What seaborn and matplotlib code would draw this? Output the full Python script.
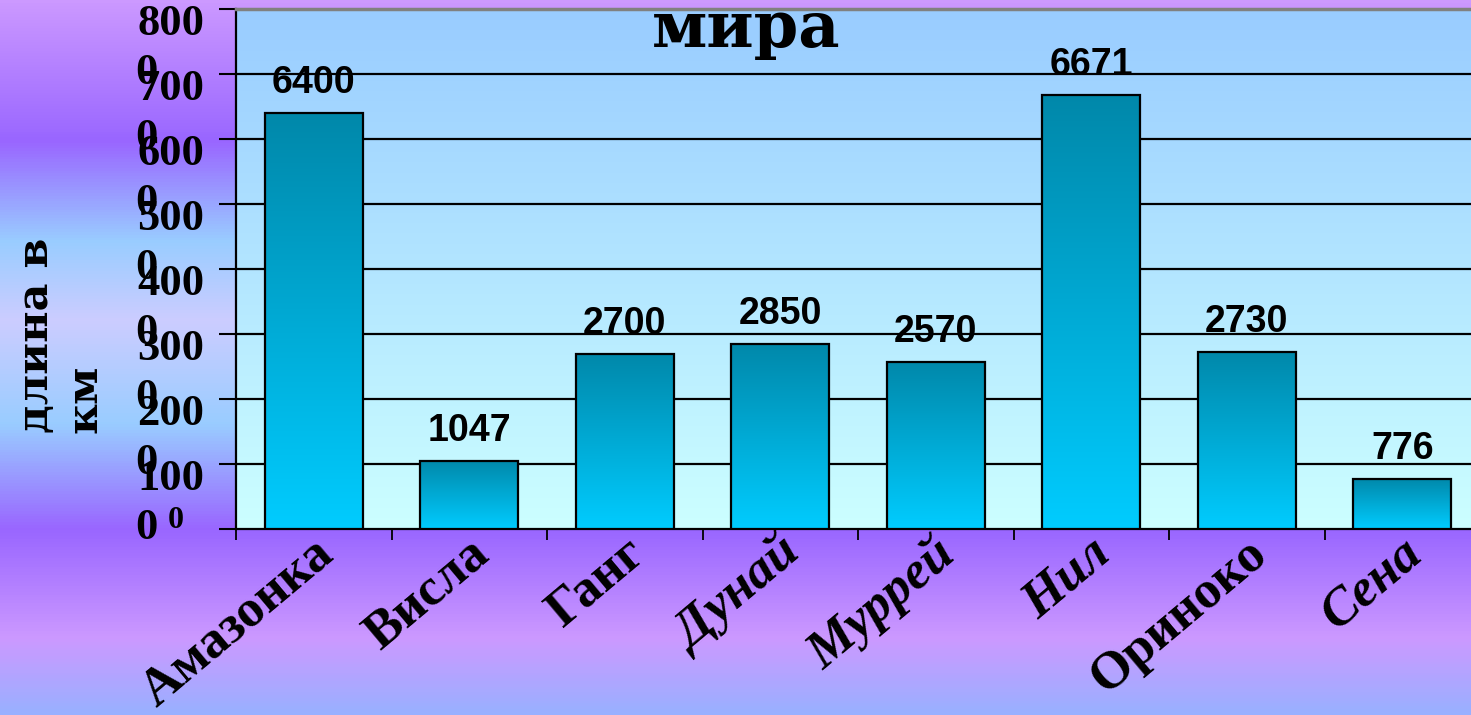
import numpy as np
import pandas as pd
import matplotlib
matplotlib.use('Agg')
import matplotlib.pyplot as plt
import matplotlib.transforms as mtransforms
from matplotlib.colors import LinearSegmentedColormap
import seaborn as sns

# Data
rivers = ['Амазонка', 'Висла', 'Ганг', 'Дунай', 'Муррей', 'Нил', 'Ориноко', 'Сена']
lengths = [6400, 1047, 2700, 2850, 2570, 6671, 2730, 776]
y_ticks = [0, 1000, 2000, 3000, 4000, 5000, 6000, 7000, 8000]
italic_rivers = ['Дунай', 'Муррей', 'Нил', 'Сена']

W, H = 1471, 715
fig = plt.figure(figsize=(W / 100, H / 100), dpi=100)

# Slide background: vertical purple / blue gradient
bg_stops = [(0, '#cc99ff'), (140, '#9966ff'), (240, '#99ccff'), (320, '#ccccff'),
            (425, '#99ccff'), (530, '#9966ff'), (640, '#cc99ff'), (715, '#99b0ff')]
bg_cmap = LinearSegmentedColormap.from_list('bg', [(p / H, c) for p, c in bg_stops])
bg = fig.add_axes([0, 0, 1, 1], zorder=-10)
bg.imshow(np.linspace(0, 1, H).reshape(-1, 1), cmap=bg_cmap, aspect='auto',
          extent=(0, 1, 0, 1), origin='upper')
bg.axis('off')

# Plot area (runs past the right edge of the picture, as in the reference)
ax = fig.add_axes([236 / W, (H - 529) / H, (1480 - 236) / W, (529 - 9) / H])
ax.patch.set_alpha(0)
area_cmap = LinearSegmentedColormap.from_list('area', ['#99ccff', '#ccffff'])
ax.imshow(np.linspace(0, 1, 256).reshape(-1, 1), cmap=area_cmap, aspect='auto',
          extent=(-0.5, 7.5, 0, 8000), origin='upper', zorder=0)

ax.hlines(y_ticks[1:-1], -0.5, 7.5, color='black', lw=1.6, zorder=1)

df = pd.DataFrame({'river': rivers, 'length': lengths})
sns.barplot(data=df, x='river', y='length', ax=ax, width=0.63, color='#00aadd',
            edgecolor='black', linewidth=1.6, zorder=3)

# Gradient fill inside each bar
bar_cmap = LinearSegmentedColormap.from_list('bar', ['#0088aa', '#00ccff'])
for patch in ax.patches:
    x0, y0 = patch.get_x(), patch.get_y()
    w, h = patch.get_width(), patch.get_height()
    im = ax.imshow(np.linspace(0, 1, 256).reshape(-1, 1), cmap=bar_cmap, aspect='auto',
                   extent=(x0, x0 + w, y0, y0 + h), origin='upper', zorder=2.9)
    im.set_clip_path(patch)
    patch.set_facecolor('none')

ax.set_xlim(-0.5, 7.5)
ax.set_ylim(0, 8000)
ax.set_xlabel('')
ax.set_ylabel('')

for side in ['left', 'bottom']:
    ax.spines[side].set_color('black')
    ax.spines[side].set_linewidth(1.6)
ax.spines['top'].set_color('#808080')
ax.spines['top'].set_linewidth(2.5)
ax.spines['right'].set_visible(False)

# Y ticks with the broken two-line labels of the original
ax.set_yticks(y_ticks)
ax.set_yticklabels([])
ax.tick_params(axis='y', length=12, width=1.5, direction='out', color='black')
trans = mtransforms.blended_transform_factory(fig.transFigure, ax.transData)
ylab_font = dict(family='Liberation Serif', fontweight='bold', fontsize=32, color='black')
for v in y_ticks[1:]:
    s = str(v)
    ax.text(204 / W, v, s[:-1], ha='right', va='center',
            transform=mtransforms.offset_copy(trans, fig=fig, y=-15, units='dots'), **ylab_font)
    ax.text(135 / W, v, s[-1], ha='left', va='center',
            transform=mtransforms.offset_copy(trans, fig=fig, y=-64, units='dots'), **ylab_font)
ax.text(168 / W, y_ticks[0], str(y_ticks[0]), ha='left', va='center',
        transform=mtransforms.offset_copy(trans, fig=fig, y=8, units='dots'),
        family='Liberation Serif', fontweight='bold', fontsize=23)

# X ticks at category boundaries, labels at centres
ax.set_xticks(range(len(rivers)))
ax.set_xticklabels(rivers)
ax.set_xticks(np.arange(-0.5, len(rivers), 1), minor=True)
ax.tick_params(axis='x', which='major', length=0, pad=0)
ax.tick_params(axis='x', which='minor', length=8, width=1.3, color='black')
shift = mtransforms.ScaledTranslation(-2 / 100, 0, fig.dpi_scale_trans)
for lab in ax.get_xticklabels():
    lab.set_rotation(40)
    lab.set_ha('right')
    lab.set_rotation_mode('anchor')
    lab.set_family('Liberation Serif')
    lab.set_fontweight('bold')
    lab.set_fontsize(38)
    lab.set_style('italic' if lab.get_text() in italic_rivers else 'normal')
    lab.set_transform(lab.get_transform() + shift)

# Value labels above the bars
for i, v in enumerate(lengths):
    ax.annotate(str(v), (i, v), xytext=(0, 20), textcoords='offset pixels',
                ha='center', va='baseline', family='Liberation Sans',
                fontweight='bold', fontsize=27, zorder=5)

fig.text(60 / W, (H - 433) / H, 'длина в\nкм', rotation=90, ha='center', va='bottom',
         multialignment='left', family='DejaVu Serif', fontweight='bold',
         fontsize=31, linespacing=1.2)

fig.text(746 / W, (H - 47) / H, 'мира', ha='center', va='baseline',
         family='DejaVu Serif', fontweight='bold', fontsize=46)

fig.savefig('out.png', dpi=100)
